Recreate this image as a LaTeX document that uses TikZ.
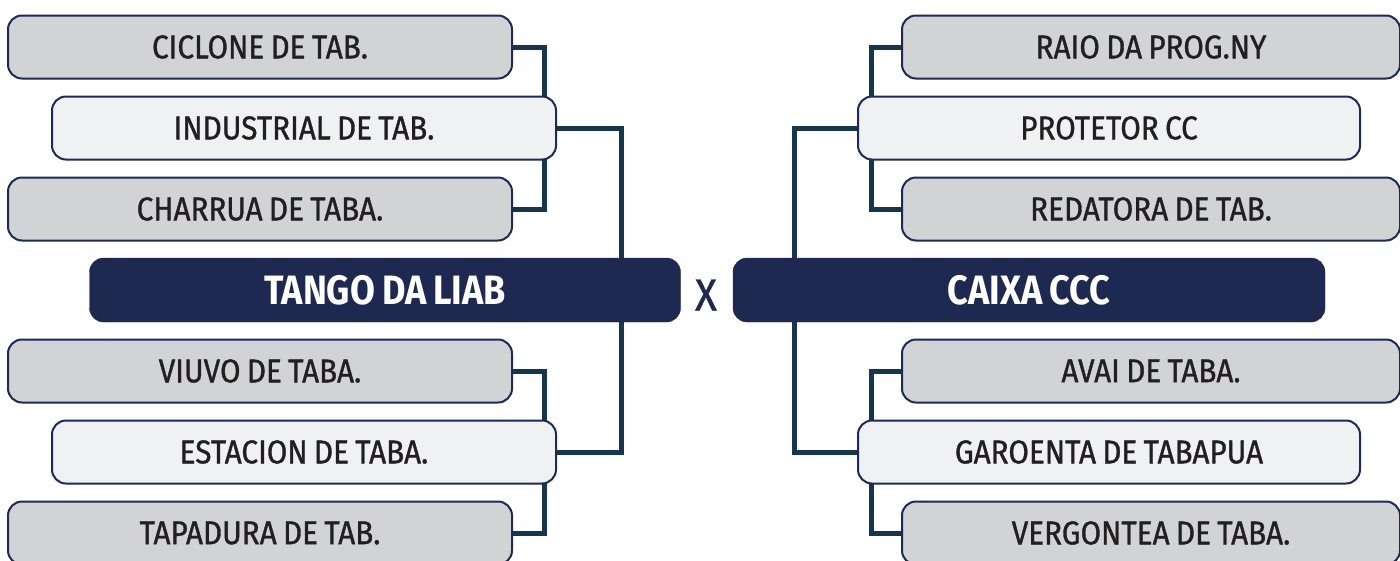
\documentclass[tikz,border=0pt]{standalone}
\usepackage{fontspec}
\setmainfont{Fira Sans}[FakeStretch=0.9,FakeBold=1,WordSpace=0.8,BoldFeatures={FakeStretch=0.88,FakeBold=0}]
\usetikzlibrary{backgrounds}
\definecolor{navy}{HTML}{1E2952}
\definecolor{edge}{HTML}{1B2A57}
\definecolor{wire}{HTML}{15364F}
\definecolor{grayfill}{HTML}{D1D3D5}
\definecolor{lightfill}{HTML}{F0F1F3}
\definecolor{ink}{HTML}{231F20}
\tikzset{
  team/.style={draw=edge, line width=2pt, rounded corners=14pt, minimum width=504pt,
    minimum height=63pt, inner sep=0pt, text=ink, font=\fontsize{33}{36}\selectfont},
  outer/.style={team, fill=grayfill},
  inner/.style={team, fill=lightfill},
  router/.style={outer, minimum width=498pt},
  rinner/.style={inner, minimum width=502pt},
  final/.style={draw=navy, fill=navy, rounded corners=14pt, minimum width=591pt,
    minimum height=64pt, inner sep=0pt, text=white, font=\fontsize{41}{44}\selectfont\bfseries},
  wireline/.style={draw=wire, line width=5pt},
}
\begin{document}
\begin{tikzpicture}[x=1pt,y=-1pt]
\useasboundingbox (0,0) rectangle (1400,560);
% left bracket
\node[outer] (C1) at (260,47) {CICLONE DE TAB.};
\node[inner] (I1) at (304,128) {INDUSTRIAL DE TAB.};
\node[outer] (C3) at (260,209) {CHARRUA DE TABA.};
\node[final] (tango) at (385,290) {TANGO DA LIAB};
\node[outer] (C5) at (260,371) {VIUVO DE TABA.};
\node[inner] (I2) at (304,452) {ESTACION DE TABA.};
\node[outer] (C7) at (260,533) {TAPADURA DE TAB.};
% versus
\node[text=navy, font=\fontsize{45}{47}\selectfont, inner sep=0pt] (vs) at (706,295) {X};
% right bracket
\node[router] (R1) at (1151,47) {RAIO DA PROG.NY};
\node[rinner] (R2) at (1109,128) {PROTETOR CC};
\node[router] (R3) at (1151,209) {REDATORA DE TAB.};
\node[final, minimum width=592pt] (caixa) at (1029,290) {CAIXA CCC};
\node[router] (R5) at (1151,371) {AVAI DE TABA.};
\node[rinner] (R6) at (1109,452) {GAROENTA DE TABAPUA};
\node[router] (R7) at (1151,533) {VERGONTEA DE TABA.};
% white page and connectors behind the boxes
\begin{scope}[on background layer]
\fill[white] (0,0) rectangle (1400,560);
\draw[wireline] (C1.east) -- ++(31,0) |- (C3.east);
\draw[wireline] (C5.east) -- ++(31,0) |- (C7.east);
\draw[wireline] (I1.east) -- ++(64,0) |- (I2.east);
\draw[wireline] (R1.west) -- ++(-30,0) |- (R3.west);
\draw[wireline] (R5.west) -- ++(-30,0) |- (R7.west);
\draw[wireline] (R2.west) -- ++(-63,0) |- (R6.west);
\end{scope}
\end{tikzpicture}
\end{document}
